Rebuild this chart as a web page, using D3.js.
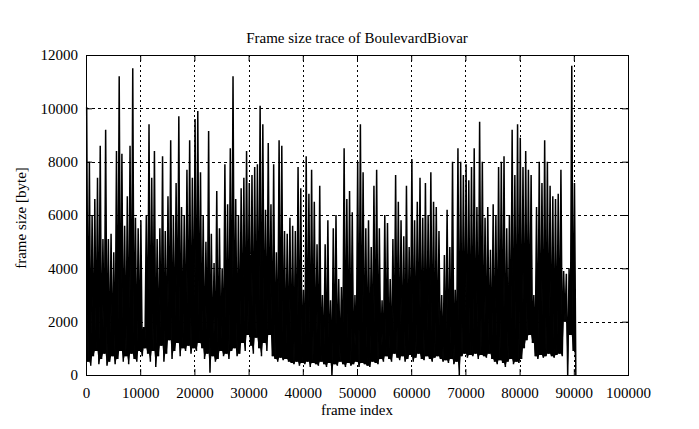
<!DOCTYPE html>
<html>
<head>
<meta charset="utf-8">
<script src="https://cdnjs.cloudflare.com/ajax/libs/d3/7.8.5/d3.min.js"></script>
<style>
  body { margin: 0; background: #fff; }
  svg { display: block; font-family: "Liberation Serif", "Times New Roman", serif; }
</style>
</head>
<body>
<div id="vis-container"></div>
<script>

////////////////////////////////////
/////////////// Data ///////////////
////////////////////////////////////

// one peak and one trough per block of 500 frames
const frameStep = 500

const peakSize = [
    10050, 8000, 6000, 6600, 7400, 8600, 5100, 9200, 5100, 5300,
    4600, 8400, 11200, 8300, 5600, 6700, 8600, 11500, 5900, 5500,
    5800, 1800, 6000, 9400, 7400, 8400, 5100, 5500, 8200, 5400,
    6700, 8800, 6000, 7200, 9700, 6300, 6000, 7700, 8800, 7400,
    9600, 9900, 7600, 6000, 5000, 9150, 5300, 4200, 6900, 5500,
    4000, 7900, 6400, 8500, 11200, 6600, 6000, 7000, 7400, 8400,
    7200, 7500, 7800, 7900, 10100, 9400, 6200, 8700, 6400, 7900,
    4600, 8800, 8600, 5400, 5300, 5900, 5600, 5400, 7800, 7000,
    3200, 8200, 6800, 7700, 6500, 4900, 7100, 3000, 4900, 5800,
    2800, 5500, 6000, 3600, 3300, 8500, 6600, 6900, 6100, 3000,
    8000, 9400, 7600, 5500, 5800, 4800, 7100, 7700, 5500, 2800,
    6000, 5700, 3600, 5100, 7500, 6500, 5800, 5200, 7100, 4800,
    8100, 5800, 6500, 7400, 5900, 7200, 6000, 7600, 6500, 6300,
    5400, 3000, 4500, 6200, 4800, 8000, 3200, 8500, 8000, 7500,
    7900, 7300, 7800, 8500, 6300, 9500, 8000, 5900, 6300, 4700,
    6400, 6000, 7800, 8000, 8200, 5500, 6000, 9200, 7500, 9400,
    8900, 7800, 8400, 7700, 7500, 3000, 6300, 8000, 7200, 8800,
    8000, 7100, 6700, 6600, 6800, 7700, 3900, 3800, 4000, 11600,
    7200
]

const troughSize = [
    500, 350, 700, 900, 400, 600, 800, 350, 500, 700,
    400, 600, 900, 500, 700, 400, 800, 600, 500, 900,
    700, 1000, 800, 500, 900, 300, 700, 1100, 500, 800,
    1300, 600, 900, 1200, 700, 1000, 900, 1100, 800, 1000,
    900, 1200, 1000, 600, 800, 80, 700, 500, 600, 900,
    700, 800, 600, 900, 1000, 700, 800, 1200, 900, 1500,
    1100, 800, 1400, 1000, 700, 1200, 900, 1500, 700, 600,
    500, 650, 550, 600, 500, 450, 400, 500, 350, 450,
    400, 500, 300, 450, 400, 350, 500, 400, 300, 450,
    0, 400, 350, 500, 400, 300, 450, 350, 400, 500,
    300, 450, 400, 350, 300, 500, 450, 400, 600, 500,
    700, 600, 500, 800, 650, 550, 700, 500, 600, 750,
    500, 650, 800, 600, 550, 700, 600, 500, 650, 700,
    600, 500, 550, 450, 600, 400, 500, 0, 700, 800,
    650, 750, 700, 800, 600, 750, 700, 650, 800, 600,
    500, 400, 550, 450, 300, 500, 600, 400, 500, 450,
    600, 1000, 1300, 1500, 1200, 700, 600, 750, 650, 700,
    800, 700, 650, 750, 800, 700, 2000, 0, 1500, 900,
    0
]

const xTicks = [0, 10000, 20000, 30000, 40000, 50000, 60000, 70000, 80000, 90000, 100000]
const yTicks = [0, 2000, 4000, 6000, 8000, 10000, 12000]

////////////////////////////////////
///////////// SVG Setup ////////////
////////////////////////////////////

const svgWidth = 699
const svgHeight = 429

const margin = { left: 86, right: 71, top: 55, bottom: 54 }

const width = svgWidth - margin.left - margin.right
const height = svgHeight - margin.top - margin.bottom

const root = d3.select('#vis-container')
    .append('svg')
    .attr('width', svgWidth)
    .attr('height', svgHeight)

const svg = root.append('g')
    .attr('transform', `translate(${margin.left},${margin.top})`)

////////////////////////////////////
/////////////// Scales /////////////
////////////////////////////////////

const xScale = d3.scaleLinear().domain([0, 100000]).range([0, width])
const yScale = d3.scaleLinear().domain([0, 12000]).range([height, 0])

////////////////////////////////////
//////////////// Grid //////////////
////////////////////////////////////

svg.append('g')
    .selectAll('line')
    .data(xTicks.slice(1, -1))
    .join('line')
    .attr('x1', d => Math.round(xScale(d)) + 0.5)
    .attr('x2', d => Math.round(xScale(d)) + 0.5)
    .attr('y1', 0)
    .attr('y2', height)
    .attr('stroke', '#000')
    .attr('stroke-dasharray', '2,3')

svg.append('g')
    .selectAll('line')
    .data(yTicks.slice(1, -1))
    .join('line')
    .attr('x1', 0)
    .attr('x2', width)
    .attr('y1', d => Math.round(yScale(d)) + 0.5)
    .attr('y2', d => Math.round(yScale(d)) + 0.5)
    .attr('stroke', '#000')
    .attr('stroke-dasharray', '3,3')

////////////////////////////////////
/////////////// Trace //////////////
////////////////////////////////////

// each point keeps the level of the troughs next to it, so the dense
// part under a peak is filled the way thousands of frames fill it
const trace = []
peakSize.forEach((p, i) => {
    const prev = i > 0 ? troughSize[i - 1] : troughSize[i]
    trace.push({ f: i * frameStep + frameStep * 0.25, v: p, base: Math.max(prev, troughSize[i]) })
    trace.push({ f: i * frameStep + frameStep * 0.75, v: troughSize[i], base: troughSize[i] })
})

svg.append('path')
    .datum(trace)
    .attr('fill', '#000')
    .attr('d', d3.area()
        .x(d => xScale(d.f))
        .y0(d => yScale(d.base))
        .y1(d => yScale(d.v)))

svg.append('path')
    .datum(trace)
    .attr('fill', 'none')
    .attr('stroke', '#000')
    .attr('stroke-width', 1.5)
    .attr('stroke-linejoin', 'bevel')
    .attr('d', d3.line()
        .x(d => xScale(d.f))
        .y(d => yScale(d.v)))

////////////////////////////////////
////////////// Axis ////////////////
////////////////////////////////////

const xAxis = d3.axisBottom(xScale).tickValues(xTicks).tickSize(-6).tickPadding(12).tickFormat(d3.format('d'))
const yAxis = d3.axisLeft(yScale).tickValues(yTicks).tickSize(-6).tickPadding(8).tickFormat(d3.format('d'))
const xTop = d3.axisTop(xScale).tickValues(xTicks).tickSize(-6).tickFormat('')
const yRight = d3.axisRight(yScale).tickValues(yTicks).tickSize(-6).tickFormat('')

function style(g) {
    g.selectAll('.domain').remove()
    g.selectAll('line').attr('stroke', '#000')
    g.selectAll('text')
        .attr('fill', '#000')
        .style('font-family', '"Liberation Serif", "Times New Roman", serif')
        .style('font-size', '15px')
}

svg.append('g').attr('transform', `translate(0,${height})`).call(xAxis).call(style)
svg.append('g').call(yAxis).call(style)
svg.append('g').call(xTop).call(style)
svg.append('g').attr('transform', `translate(${width},0)`).call(yRight).call(style)

// border
svg.append('rect')
    .attr('x', 0.5)
    .attr('y', 0.5)
    .attr('width', width)
    .attr('height', height)
    .attr('fill', 'none')
    .attr('stroke', '#000')

////////////////////////////////////
////////////// Labels //////////////
////////////////////////////////////

root.append('text')
    .attr('x', margin.left + width / 2)
    .attr('y', 43)
    .attr('text-anchor', 'middle')
    .style('font-size', '15px')
    .text('Frame size trace of BoulevardBiovar')

root.append('text')
    .attr('x', margin.left + width / 2)
    .attr('y', 415)
    .attr('text-anchor', 'middle')
    .style('font-size', '15px')
    .text('frame index')

root.append('text')
    .attr('transform', 'translate(26,218) rotate(-90)')
    .attr('text-anchor', 'middle')
    .style('font-size', '15px')
    .text('frame size [byte]')

</script>
</body>
</html>
